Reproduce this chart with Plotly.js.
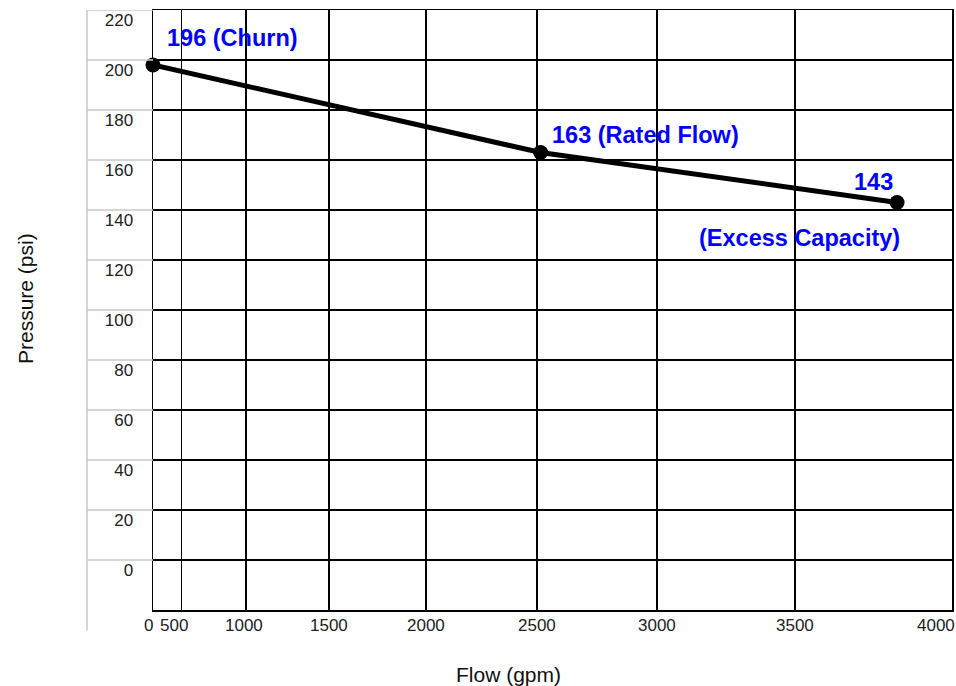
<!DOCTYPE html>
<html><head><meta charset="utf-8">
<script src="https://cdn.plot.ly/plotly-3.0.1.min.js"></script>
<style>html,body{margin:0;padding:0;background:#fff;}#chart{width:956px;height:686px;}</style>
</head><body><div id="chart"></div>
<script>
// ---- Data ----
const flow = [0, 2515, 3825];          // gpm
const pressure = [198, 163, 143];      // psi
const pointLabels = ['196 (Churn)', '163 (Rated Flow)', '143'];
const extraLabel = '(Excess Capacity)';

// X axis: tick values and the (non-uniform) spacing the original chart uses for them
const flowTicks = [0, 500, 1000, 1500, 2000, 2500, 3000, 3500, 4000];
const flowTickText = ['0', '500', '1000', '1500', '2000', '2500', '3000', '3500', '4000'];
const flowScalePos = [0, 28.5, 93, 176, 273, 384, 504, 642, 799];

// Y axis ticks
const pressureTicks = [0, 20, 40, 60, 80, 100, 120, 140, 160, 180, 200, 220];
const pressureTickText = ['0', '20', '40', '60', '80', '100', '120', '140', '160', '180', '200', '220'];

// ---- Scale mapping for the non-uniform flow axis ----
function flowToPos(f) {
  for (let i = 1; i < flowTicks.length; i++) {
    if (f <= flowTicks[i]) {
      const t = (f - flowTicks[i - 1]) / (flowTicks[i] - flowTicks[i - 1]);
      return flowScalePos[i - 1] + t * (flowScalePos[i] - flowScalePos[i - 1]);
    }
  }
  return flowScalePos[flowScalePos.length - 1];
}
const xPos = flow.map(flowToPos);

const FONT = 'Arial, "Liberation Sans", sans-serif';
const BLUE = '#0000ff';

const trace = {
  x: xPos, y: pressure, mode: 'lines+markers', type: 'scatter',
  line: {color: '#000', width: 5},
  marker: {color: '#000', size: 15},
  cliponaxis: false, hoverinfo: 'skip', showlegend: false
};

// gray guide lines in the label gutter
const xMax = flowScalePos[flowScalePos.length - 1];
const gutterX = -66 / xMax;
const shapes = pressureTicks.map(v => ({
  type: 'line', xref: 'paper', yref: 'y', x0: gutterX, x1: 0, y0: v, y1: v,
  line: {color: '#c8c8c8', width: 1.5}
}));
shapes.push({type: 'line', xref: 'paper', yref: 'paper', x0: gutterX, x1: gutterX, y0: -0.034, y1: 1,
  line: {color: '#c8c8c8', width: 1.5}});

const annotations = [
  {x: xPos[0], y: pressure[0], text: pointLabels[0], xanchor: 'left', yanchor: 'middle', xshift: 12, yshift: 27},
  {x: xPos[1], y: pressure[1], text: pointLabels[1], xanchor: 'left', yanchor: 'middle', xshift: 9, yshift: 18},
  {x: xPos[2], y: pressure[2], text: pointLabels[2], xanchor: 'right', yanchor: 'middle', xshift: -2, yshift: 21},
  {x: xPos[2], y: pressure[2], text: extraLabel, xanchor: 'right', yanchor: 'middle', xshift: 5, yshift: -35}
].map(a => Object.assign(a, {xref: 'x', yref: 'y', showarrow: false,
  font: {family: FONT, size: 23.5, color: BLUE, weight: 'bold'}, text: '<b>' + a.text + '</b>'}));

// x tick labels (the original nudges a few of them sideways)
const labelNudge = {'0': -5, '500': -8, '1000': -2, '4000': -16};
flowTickText.forEach((t, i) => annotations.push({
  xref: 'x', yref: 'paper', x: flowScalePos[i], y: -15 / 600, text: t,
  xanchor: 'center', yanchor: 'middle', xshift: labelNudge[t] || 0, showarrow: false,
  font: {family: FONT, size: 17, color: '#222'}
}));

// axis titles (placed where the original draws them)
annotations.push({xref: 'paper', yref: 'paper', x: (508 - 153) / xMax, y: (610 - 674) / 600,
  text: 'Flow (gpm)', showarrow: false, xanchor: 'center', yanchor: 'middle',
  font: {family: FONT, size: 21, color: '#111'}});
annotations.push({xref: 'paper', yref: 'paper', x: (25 - 153) / xMax, y: (610 - 299) / 600,
  text: 'Pressure (psi)', showarrow: false, textangle: -90, xanchor: 'center', yanchor: 'middle',
  font: {family: FONT, size: 21, color: '#111'}});

const layout = {
  width: 956, height: 686,
  margin: {l: 153, r: 4, t: 10, b: 76, pad: 0},
  paper_bgcolor: '#fff', plot_bgcolor: '#fff',
  font: {family: FONT, size: 17, color: '#222'},
  xaxis: {
    range: [0, xMax],
    tickmode: 'array', tickvals: flowScalePos, ticktext: flowTickText,
    showticklabels: false, ticks: '',
    showgrid: true, gridcolor: '#000', gridwidth: 1.5,
    showline: true, linecolor: '#000', linewidth: 1.5, mirror: true,
    zeroline: false, fixedrange: true
  },
  yaxis: {
    range: [-20, 220],
    tickmode: 'array', tickvals: pressureTicks, ticktext: pressureTickText,
    ticks: 'outside', ticklen: 15, tickcolor: 'rgba(0,0,0,0)',
    ticklabelshift: 10, ticklabeloverflow: 'allow',
    showgrid: true, gridcolor: '#000', gridwidth: 1.5,
    showline: true, linecolor: '#000', linewidth: 1.5, mirror: true,
    zeroline: false, fixedrange: true
  },
  shapes: shapes,
  annotations: annotations
};

Plotly.newPlot('chart', [trace], layout, {displayModeBar: false, staticPlot: true});
</script>
</body></html>
